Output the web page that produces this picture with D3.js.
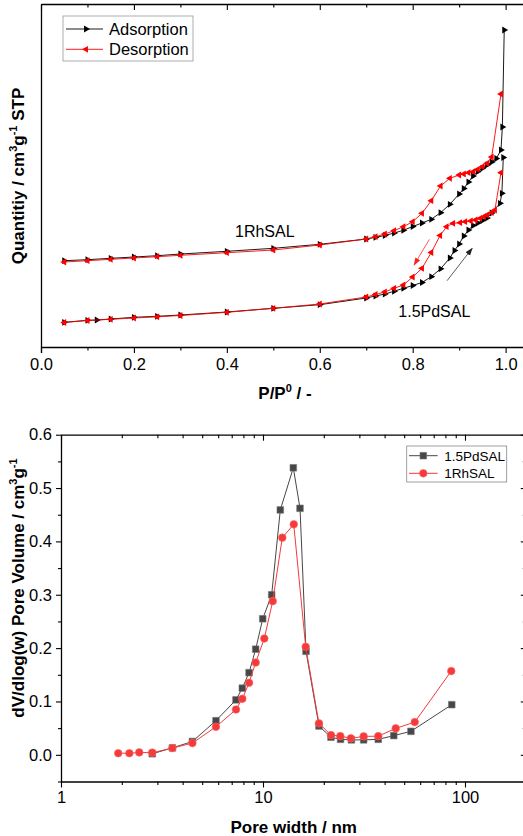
<!DOCTYPE html>
<html>
<head>
<meta charset="utf-8">
<script src="https://cdn.jsdelivr.net/npm/d3@7/dist/d3.min.js"></script>
<style>
  html, body { margin: 0; padding: 0; background: #fff; }
  svg { display: block; font-family: "Liberation Sans", Arial, sans-serif; }
</style>
</head>
<body>
<svg id="chart" width="523" height="836"></svg>
<script>
// ---------- Isotherms: N2 adsorption / desorption (quantity in arbitrary offset units) ----------
const rhAdsP = [0.05,0.1,0.15,0.2,0.25,0.3,0.4,0.5,0.6,0.7,0.72,0.74,0.76,0.78,0.8,0.82,0.84,0.86,0.88,0.9,0.91,0.92,0.93,0.94,0.95,0.96,0.97,0.98,0.99,0.993,0.997];
const rhAdsQ = [86.3,87.3,88.7,90,91.3,93,95.7,98.7,102.7,108,109.7,111.5,114,116.7,120.5,124,127.7,134.3,142.7,153,158.5,165,171,175.3,178.7,182,185,188.5,197,220,317];

const rhDesP = [0.99,0.97,0.96,0.95,0.94,0.93,0.92,0.91,0.9,0.88,0.86,0.84,0.82,0.8,0.78,0.76,0.74,0.72,0.7,0.6,0.5,0.4,0.3,0.25,0.2,0.15,0.1,0.05];
const rhDesQ = [253,190,183.7,180.3,177.7,175.3,174.3,173,172,168.7,161,146.3,133.7,125.3,120.3,116.3,113,110.3,108,102,97,94.3,91.7,90.3,89,87.7,86.3,85];

const pdAdsP = [0.05,0.1,0.12,0.15,0.2,0.25,0.3,0.4,0.5,0.6,0.7,0.72,0.74,0.76,0.78,0.8,0.82,0.84,0.86,0.88,0.89,0.9,0.91,0.92,0.93,0.94,0.95,0.96,0.97,0.988,0.992,0.995];
const pdAdsQ = [24.7,26.7,27,28,29.7,30.7,32,35,38.7,42.3,49,51,53,55.7,58.7,61.5,64.5,70.3,78.2,89,96.5,103,111,117,121.5,124,126.5,129,134,143.7,153.7,189.5];

const pdDesP = [0.99,0.977,0.97,0.96,0.953,0.945,0.935,0.925,0.913,0.902,0.887,0.873,0.859,0.84,0.82,0.8,0.78,0.76,0.74,0.72,0.7,0.6,0.5,0.4,0.3,0.25,0.2,0.15,0.1,0.05];
const pdDesQ = [174.3,137,134.3,132,130.3,128.7,127,126,125.3,124.3,123.7,120.3,111.5,94.5,78.7,70,62,58.7,55,52.5,50,43,38.7,34.7,31.5,30.2,29,27.7,26.5,24.5];

const isoXTicks = [0, 0.2, 0.4, 0.6, 0.8, 1.0];
const isoXMinor = [0.1, 0.3, 0.5, 0.7, 0.9];

// sample labels [text, P, quantity] and direction arrows [P0, Q0, P1, Q1]
const isoLabels = [["1RhSAL", 0.4176, 110.5], ["1.5PdSAL", 0.769, 30.5]];
const desArrow = [0.836, 107.7, 0.803, 82];
const adsArrow = [0.874, 66.3, 0.928, 98.7];

// ---------- Pore size distribution ----------
const pdPoreW = [2.83,3.56,4.47,5.85,7.35,7.9,8.53,9.2,9.97,11.04,12.18,14.13,15.25,16.33,18.93,21.7,24.2,27.4,31.5,37.2,44.4,54.0,86.0];
const pdPoreV = [0.002,0.013,0.025,0.064,0.103,0.125,0.154,0.198,0.255,0.300,0.459,0.538,0.462,0.194,0.054,0.033,0.029,0.028,0.028,0.029,0.036,0.044,0.094];

const rhPoreW = [1.92,2.18,2.44,2.83,3.56,4.47,5.85,7.35,7.9,8.53,9.2,10.15,11.17,12.46,14.2,16.27,18.93,21.7,24.14,27.2,31.5,37.2,45.4,56.4,85.5];
const rhPoreV = [0.003,0.003,0.0045,0.004,0.0126,0.022,0.0525,0.085,0.105,0.135,0.173,0.218,0.288,0.407,0.432,0.2025,0.059,0.037,0.035,0.031,0.0345,0.035,0.0495,0.0613,0.157];

const psdYTicks = [0.0, 0.1, 0.2, 0.3, 0.4, 0.5, 0.6];
const psdXTicks = [1, 10, 100];

const svg = d3.select("#chart");
const FONT = "Liberation Sans, Arial, sans-serif";

// ================= Isotherm panel =================
const iso = { left: 41, right: 524.2, top: 4, bottom: 347 };
const xIso = d3.scaleLinear().domain([0, 1.04]).range([iso.left, iso.right]);
const yIso = d3.scaleLinear().domain([0, 343]).range([iso.bottom, iso.top]);

const gIso = svg.append("g");

function styleAxis(g) {
  g.selectAll("path.domain").attr("stroke", "#000").attr("stroke-width", 1.3);
  g.selectAll(".tick line").attr("stroke", "#000").attr("stroke-width", 1.1);
  g.selectAll("text").attr("font-family", FONT).attr("fill", "#000");
}

// bottom axis with labels
gIso.append("g")
  .attr("transform", `translate(0,${iso.bottom})`)
  .call(d3.axisBottom(xIso).tickValues(isoXTicks).tickSize(6).tickPadding(5).tickFormat(d3.format(".1f")))
  .call(styleAxis)
  .call(g => g.selectAll("text").attr("font-size", 16.5));
gIso.append("g")
  .attr("transform", `translate(0,${iso.bottom})`)
  .call(d3.axisBottom(xIso).tickValues(isoXMinor).tickSize(3.5).tickFormat(""))
  .call(styleAxis)
  .call(g => g.select("path.domain").remove());
// top border with inward ticks
gIso.append("g")
  .attr("transform", `translate(0,${iso.top})`)
  .call(d3.axisBottom(xIso).tickValues(isoXTicks).tickSize(6).tickFormat("").tickSizeOuter(0))
  .call(styleAxis);
gIso.append("g")
  .attr("transform", `translate(0,${iso.top})`)
  .call(d3.axisBottom(xIso).tickValues(isoXMinor).tickSize(3.5).tickFormat(""))
  .call(styleAxis)
  .call(g => g.select("path.domain").remove());
// left / right frame lines (no ticks)
gIso.append("g").attr("transform", `translate(${iso.left},0)`)
  .call(d3.axisLeft(yIso).tickValues([]).tickSizeOuter(0)).call(styleAxis);
gIso.append("g").attr("transform", `translate(${iso.right},0)`)
  .call(d3.axisRight(yIso).tickValues([]).tickSizeOuter(0)).call(styleAxis);

const isoLine = d3.line().x(d => xIso(d[0])).y(d => yIso(d[1]));
const triR = d3.symbol().type(d3.symbolTriangle).size(20);

function drawIsoSeries(P, Q, color, rot) {
  const pts = P.map((p, i) => [p, Q[i]]);
  gIso.append("path").datum(pts)
    .attr("d", isoLine).attr("fill", "none").attr("stroke", color).attr("stroke-width", 0.9);
  gIso.append("g").selectAll("path").data(pts).join("path")
    .attr("d", triR)
    .attr("transform", d => `translate(${xIso(d[0])},${yIso(d[1])}) rotate(${rot})`)
    .attr("fill", color);
}
drawIsoSeries(rhAdsP, rhAdsQ, "#000", 90);
drawIsoSeries(pdAdsP, pdAdsQ, "#000", 90);
drawIsoSeries(rhDesP, rhDesQ, "#ff0000", -90);
drawIsoSeries(pdDesP, pdDesQ, "#ff0000", -90);

// direction arrows
const defs = svg.append("defs");
[["arrRed", "#ff2020"], ["arrBlk", "#222"]].forEach(([id, c]) => {
  defs.append("marker").attr("id", id).attr("viewBox", "0 0 10 10")
    .attr("refX", 9).attr("refY", 5).attr("markerWidth", 8).attr("markerHeight", 8)
    .attr("markerUnits", "userSpaceOnUse").attr("orient", "auto")
    .append("path").attr("d", "M0,1.5 L10,5 L0,8.5 Z").attr("fill", c);
});
[[desArrow, "#ff3030", "arrRed"], [adsArrow, "#333", "arrBlk"]].forEach(([a, c, m]) => {
  gIso.append("line")
    .attr("x1", xIso(a[0])).attr("y1", yIso(a[1]))
    .attr("x2", xIso(a[2])).attr("y2", yIso(a[3]))
    .attr("stroke", c).attr("stroke-width", 0.8).attr("marker-end", `url(#${m})`);
});

// sample labels
gIso.selectAll("text.lbl").data(isoLabels).join("text")
  .attr("class", "lbl")
  .attr("x", d => xIso(d[1])).attr("y", d => yIso(d[2]))
  .attr("font-size", 16).attr("fill", "#000").attr("font-family", FONT)
  .text(d => d[0]);

// legend
const legIso = gIso.append("g");
legIso.append("rect").attr("x", 63).attr("y", 16).attr("width", 130).attr("height", 45)
  .attr("fill", "#fff").attr("stroke", "#999").attr("stroke-width", 0.8);
[["Adsorption", "#000", 90, 29], ["Desorption", "#ff0000", -90, 49.3]].forEach(([t, c, r, y]) => {
  legIso.append("line").attr("x1", 66).attr("x2", 103).attr("y1", y).attr("y2", y)
    .attr("stroke", c).attr("stroke-width", 0.9);
  legIso.append("path").attr("d", triR).attr("transform", `translate(86,${y}) rotate(${r})`).attr("fill", c);
  legIso.append("text").attr("x", 109).attr("y", y + 6).attr("font-size", 16.5)
    .attr("font-family", FONT).attr("fill", "#000").text(t);
});

// axis titles
const xt1 = gIso.append("text").attr("x", 285).attr("y", 398.5).attr("text-anchor", "middle")
  .attr("font-size", 17).attr("font-weight", "bold").attr("font-family", FONT);
xt1.append("tspan").text("P/P");
xt1.append("tspan").attr("font-size", 11).attr("dy", -7).text("0");
xt1.append("tspan").attr("dy", 7).text(" / -");

const yt1 = gIso.append("text").attr("transform", "translate(24,176) rotate(-90)")
  .attr("text-anchor", "middle").attr("font-size", 17).attr("font-weight", "bold").attr("font-family", FONT);
yt1.append("tspan").text("Quantitiy / cm");
yt1.append("tspan").attr("font-size", 11).attr("dy", -7).text("3");
yt1.append("tspan").attr("dy", 7).text("g");
yt1.append("tspan").attr("font-size", 11).attr("dy", -7).text("-1");
yt1.append("tspan").attr("dy", 7).text(" STP");

// ================= Pore size distribution panel =================
const psd = { left: 61, right: 525.8, top: 434.7, bottom: 781.5 };
const xPsd = d3.scaleLog().domain([1, 200]).range([psd.left, psd.right]);
const yPsd = d3.scaleLinear().domain([-0.05, 0.6]).range([psd.bottom, psd.top]);

const gPsd = svg.append("g");
const minorX = [];
[1, 10, 100].forEach(dec => { for (let k = 2; k <= 9; k++) if (dec * k <= 200) minorX.push(dec * k); });
const minorY = [-0.05, 0.05, 0.15, 0.25, 0.35, 0.45, 0.55];

// bottom axis
gPsd.append("g").attr("transform", `translate(0,${psd.bottom})`)
  .call(d3.axisBottom(xPsd).tickValues(psdXTicks).tickSize(6).tickPadding(4).tickFormat(d3.format("d")).tickSizeOuter(0))
  .call(styleAxis)
  .call(g => g.selectAll("text").attr("font-size", 16.5));
gPsd.append("g").attr("transform", `translate(0,${psd.bottom})`)
  .call(d3.axisBottom(xPsd).tickValues(minorX).tickSize(3.5).tickFormat(""))
  .call(styleAxis).call(g => g.select("path.domain").remove());
// top axis (inward)
gPsd.append("g").attr("transform", `translate(0,${psd.top})`)
  .call(d3.axisBottom(xPsd).tickValues(psdXTicks).tickSize(6).tickFormat("").tickSizeOuter(0))
  .call(styleAxis);
gPsd.append("g").attr("transform", `translate(0,${psd.top})`)
  .call(d3.axisBottom(xPsd).tickValues(minorX).tickSize(3.5).tickFormat(""))
  .call(styleAxis).call(g => g.select("path.domain").remove());
// left axis
gPsd.append("g").attr("transform", `translate(${psd.left},0)`)
  .call(d3.axisLeft(yPsd).tickValues(psdYTicks).tickSize(5).tickPadding(4).tickFormat(d3.format(".1f")).tickSizeOuter(0))
  .call(styleAxis)
  .call(g => g.selectAll("text").attr("font-size", 16.5));
gPsd.append("g").attr("transform", `translate(${psd.left},0)`)
  .call(d3.axisLeft(yPsd).tickValues(minorY).tickSize(3).tickFormat(""))
  .call(styleAxis).call(g => g.select("path.domain").remove());
// right axis (inward)
gPsd.append("g").attr("transform", `translate(${psd.right},0)`)
  .call(d3.axisLeft(yPsd).tickValues(psdYTicks).tickSize(5).tickFormat("").tickSizeOuter(0))
  .call(styleAxis);
gPsd.append("g").attr("transform", `translate(${psd.right},0)`)
  .call(d3.axisLeft(yPsd).tickValues(minorY).tickSize(3).tickFormat(""))
  .call(styleAxis).call(g => g.select("path.domain").remove());

const psdLine = d3.line().x(d => xPsd(d[0])).y(d => yPsd(d[1]));
const sq = d3.symbol().type(d3.symbolSquare).size(44);
const circ = d3.symbol().type(d3.symbolCircle).size(46);
const PD_COL = "#474747", RH_COL = "#f43a3a";

function drawPsd(W, V, color, sym, stroke) {
  const pts = W.map((w, i) => [w, V[i]]);
  gPsd.append("path").datum(pts).attr("d", psdLine)
    .attr("fill", "none").attr("stroke", color).attr("stroke-width", 1);
  gPsd.append("g").selectAll("path").data(pts).join("path")
    .attr("d", sym).attr("transform", d => `translate(${xPsd(d[0])},${yPsd(d[1])})`)
    .attr("fill", color).attr("stroke", stroke).attr("stroke-width", 0.6);
}
drawPsd(pdPoreW, pdPoreV, PD_COL, sq, "#777");
drawPsd(rhPoreW, rhPoreV, RH_COL, circ, "#ff6a6a");

// legend
const legPsd = gPsd.append("g");
legPsd.append("rect").attr("x", 406.7).attr("y", 446).attr("width", 100).attr("height", 36)
  .attr("fill", "#fff").attr("stroke", "#888").attr("stroke-width", 0.8);
[["1.5PdSAL", PD_COL, sq, "#777", 455.7], ["1RhSAL", RH_COL, circ, "#ff6a6a", 473.3]].forEach(([t, c, s, st, y]) => {
  legPsd.append("line").attr("x1", 409).attr("x2", 437.7).attr("y1", y).attr("y2", y)
    .attr("stroke", c).attr("stroke-width", 1);
  legPsd.append("path").attr("d", s).attr("transform", `translate(423.3,${y})`)
    .attr("fill", c).attr("stroke", st).attr("stroke-width", 0.6);
  legPsd.append("text").attr("x", 444.3).attr("y", y + 5).attr("font-size", 13.5)
    .attr("font-family", FONT).attr("fill", "#000").text(t);
});

// axis titles
gPsd.append("text").attr("x", 293.7).attr("y", 832.5).attr("text-anchor", "middle")
  .attr("font-size", 17).attr("font-weight", "bold").attr("font-family", FONT)
  .text("Pore width / nm");

const yt2 = gPsd.append("text").attr("transform", "translate(24,588) rotate(-90)")
  .attr("text-anchor", "middle").attr("font-size", 17).attr("font-weight", "bold").attr("font-family", FONT);
yt2.append("tspan").text("dV/dlog(w) Pore Volume / cm");
yt2.append("tspan").attr("font-size", 11).attr("dy", -7).text("3");
yt2.append("tspan").attr("dy", 7).text("g");
yt2.append("tspan").attr("font-size", 11).attr("dy", -7).text("-1");
</script>
</body>
</html>
